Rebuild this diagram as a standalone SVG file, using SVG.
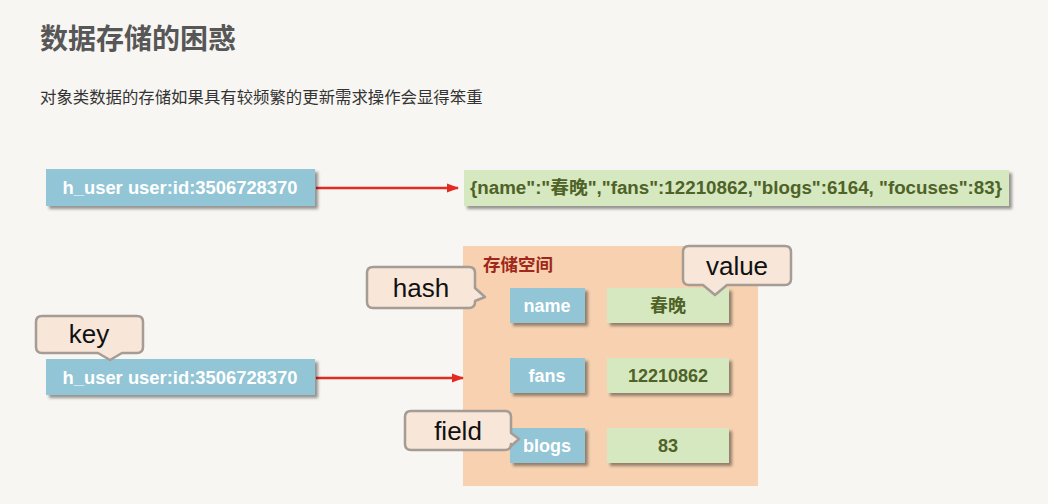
<svg xmlns="http://www.w3.org/2000/svg" width="1048" height="504" viewBox="0 0 1048 504">
<defs>
<filter id="sh" x="-10%" y="-20%" width="130%" height="160%">
<feDropShadow dx="3" dy="3" stdDeviation="1.6" flood-color="#000" flood-opacity="0.4"/>
</filter>
<marker id="ah" markerWidth="12" markerHeight="10" refX="11" refY="5" orient="auto" markerUnits="userSpaceOnUse">
<path d="M0,0.5 L12,5 L0,9.5 Z" fill="#e32b22"/>
</marker>
</defs>
<style>
.bg{fill:#f7f6f2}
.blue{fill:#92c5d5;filter:url(#sh)}
.green{fill:#d5e8bf;filter:url(#sh)}
.bt{font-family:"Liberation Sans","Noto Sans CJK SC",sans-serif;font-weight:bold;font-size:18px;fill:#ffffff;text-anchor:middle}
.gt{font-family:"Liberation Sans","Noto Sans CJK SC",sans-serif;font-weight:bold;font-size:18px;fill:#4f6228;text-anchor:middle}
.call{fill:#f8e6d8;stroke:#a49c95;stroke-width:2.5;stroke-linejoin:round}
.ct{font-family:"Liberation Sans","Noto Sans CJK SC",sans-serif;font-size:26px;fill:#111;text-anchor:middle}
.conn{stroke:#e32b22;stroke-width:2.5;fill:none}
</style>
<rect class="bg" x="0" y="0" width="1048" height="504"/>
<text x="40" y="49" font-family="'Noto Sans CJK SC',sans-serif" font-weight="bold" font-size="28" fill="#575757">数据存储的困惑</text>
<text x="40" y="103" font-family="'Noto Sans CJK SC',sans-serif" font-size="16.4" fill="#333333">对象类数据的存储如果具有较频繁的更新需求操作会显得笨重</text>

<g id="storage">
<rect x="463" y="246" width="295" height="240" fill="#f7d1b0"/>
<text x="483" y="271" font-family="'Noto Sans CJK SC',sans-serif" font-weight="bold" font-size="17.5" fill="#a0271a">存储空间</text>
</g>

<g id="connectors">
<line class="conn" x1="316" y1="188" x2="458" y2="188" marker-end="url(#ah)"/>
<line class="conn" x1="316" y1="378" x2="463" y2="378" marker-end="url(#ah)"/>
</g>

<g id="key-top">
<rect class="blue" x="46" y="169" width="269" height="37"/>
<text class="bt" x="180" y="194" textLength="235" lengthAdjust="spacingAndGlyphs">h_user user:id:3506728370</text>
</g>
<g id="json-value">
<rect class="green" x="464" y="170" width="545" height="36"/>
<text class="gt" x="736" y="194" textLength="532" lengthAdjust="spacingAndGlyphs">{name":"春晚","fans":12210862,"blogs":6164, "focuses":83}</text>
</g>

<g id="key-bottom">
<rect class="blue" x="46" y="359" width="269" height="36"/>
<text class="bt" x="180" y="384" textLength="235" lengthAdjust="spacingAndGlyphs">h_user user:id:3506728370</text>
</g>

<g id="field-name">
<rect class="blue" x="510" y="288" width="75" height="35"/>
<text class="bt" x="547" y="312">name</text>
</g>
<g id="value-name">
<rect class="green" x="607" y="288" width="122" height="35"/>
<text class="gt" x="668" y="312">春晚</text>
</g>
<g id="field-fans">
<rect class="blue" x="510" y="358" width="75" height="35"/>
<text class="bt" x="547" y="382">fans</text>
</g>
<g id="value-fans">
<rect class="green" x="607" y="358" width="122" height="35"/>
<text class="gt" x="668" y="382">12210862</text>
</g>
<g id="field-blogs">
<rect class="blue" x="510" y="428" width="75" height="35"/>
<text class="bt" x="547" y="452">blogs</text>
</g>
<g id="value-blogs">
<rect class="green" x="607" y="428" width="122" height="35"/>
<text class="gt" x="668" y="452">83</text>
</g>

<g id="callout-hash">
<path class="call" d="M373,267 H469 Q475,267 475,273 V288 L485,297 L475,301 V302 Q475,308 469,308 H373 Q367,308 367,302 V273 Q367,267 373,267 Z"/>
<text class="ct" x="421" y="297">hash</text>
</g>
<g id="callout-value">
<path class="call" d="M689,246 H785 Q791,246 791,252 V279 Q791,285 785,285 H727 L715,295 L703,285 H689 Q683,285 683,279 V252 Q683,246 689,246 Z"/>
<text class="ct" x="737" y="275">value</text>
</g>
<g id="callout-key">
<path class="call" d="M42,316 H137 Q143,316 143,322 V347 Q143,353 137,353 H122 L110,360 L98,353 H42 Q36,353 36,347 V322 Q36,316 42,316 Z"/>
<text class="ct" x="89" y="343">key</text>
</g>
<g id="callout-field">
<path class="call" d="M411,411 H505 Q511,411 511,417 V433 L519,439 L511,446 V444 Q511,450 505,450 H411 Q405,450 405,444 V417 Q405,411 411,411 Z"/>
<text class="ct" x="458" y="440">field</text>
</g>
</svg>
